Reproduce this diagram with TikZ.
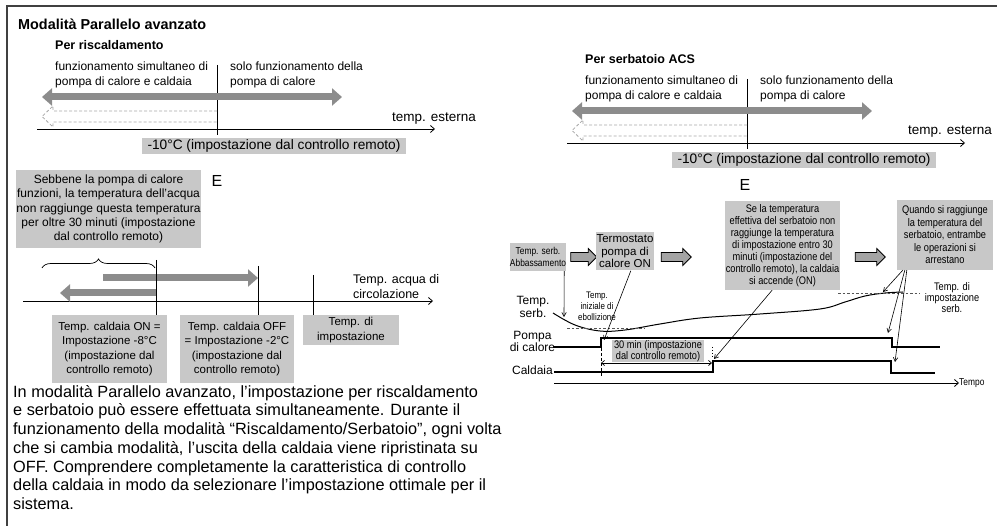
\documentclass[tikz,border=0pt]{standalone}
\usepackage{fontspec}
\setmainfont{Liberation Sans}
\newfontfamily\narrowf[FakeStretch=0.84]{Liberation Sans}
\usetikzlibrary{arrows.meta,shapes.arrows,decorations.pathreplacing,calc}
\definecolor{boxgrey}{HTML}{C8C8C8}
\definecolor{arrgrey}{HTML}{8C8C8C}
\definecolor{blockgrey}{HTML}{A4A4A4}
\definecolor{framegrey}{HTML}{404040}
\definecolor{dashgrey}{HTML}{A8A8A8}
\definecolor{dotdark}{HTML}{555555}
\begin{document}
\begin{tikzpicture}[x=1pt,y=-1pt,
  every node/.style={inner sep=0pt},
  fnt/.style 2 args={font=\fontsize{#1}{#2}\selectfont},
  bfnt/.style 2 args={font=\fontsize{#1}{#2}\selectfont\bfseries},
  nfnt/.style 2 args={font=\narrowf\fontsize{#1}{#2}\selectfont},
  gbox/.style={fill=boxgrey, align=center},
  thinline/.style={line width=0.7pt},
  axisline/.style={line width=0.8pt, -{Straight Barb[length=4pt,width=7pt]}},
  bigarrow/.style={draw=arrgrey, line width=7pt, -{Triangle[length=10pt,width=17pt]}},
  bigarrows/.style={draw=arrgrey, line width=7pt, {Triangle[length=10pt,width=17pt]}-{Triangle[length=10pt,width=17pt]}},
  ghost/.style={draw=dashgrey, line width=0.8pt, dash pattern=on 3pt off 2pt},
  blockarr/.style={single arrow, draw=black, fill=blockgrey, line width=0.8pt, minimum height=30pt, minimum width=17pt, single arrow head extend=4pt, inner sep=4pt},
  pointer/.style={line width=0.6pt, -{Straight Barb[length=4pt,width=4.5pt]}},
  signal/.style={line width=1.4pt},
  dotref/.style={draw=dotdark, line width=0.7pt, dash pattern=on 2.5pt off 2pt},
]
\useasboundingbox (0,0) rectangle (997,526);
% frame
\draw[framegrey, line width=2pt] (7,526) -- (7,6) -- (997,6);
\node[bfnt={14.4}{16}, anchor=base west] (title) at (18,30) {Modalità Parallelo avanzato};

% top panels
\foreach \dx/\dy/\sub/\nm in {0/0/Per riscaldamento/L, 530/14/Per serbatoio ACS/R}{
\begin{scope}[shift={(\dx,\dy)}]
  \node[bfnt={12.5}{15}, anchor=base west] (sub\nm) at (55,49.5) {\sub};
  \node[fnt={12}{15}, anchor=base west, align=left] (simul\nm) at (55,86) {funzionamento simultaneo di\\pompa di calore e caldaia};
  \node[fnt={12}{15}, anchor=base west, align=left] (solo\nm) at (230,86) {solo funzionamento della\\pompa di calore};
  \coordinate (vt\nm) at (217,65);
  \coordinate (vb\nm) at (217,135);
  \draw[thinline] (vt\nm) -- (vb\nm);
  \coordinate (ta\nm) at (42,97);
  \coordinate (tb\nm) at (342,97);
  \draw[bigarrows] (ta\nm) -- (tb\nm);
  \draw[ghost] (217,111) -- (53,111) -- (53,106) -- (42,116.5) -- (53,127) -- (53,122) -- (217,122);
  \coordinate (ax0\nm) at (37,129);
  \coordinate (ax1\nm) at (435,129);
  \draw[axisline] (ax0\nm) -- (ax1\nm);
  \node[gbox, fnt={13.7}{16}, minimum width=264, minimum height=16] (set\nm) at (274,146) {-10°C (impostazione dal controllo remoto)};
\end{scope}}
\node[fnt={13.5}{15}, anchor=base west] (estL) at (392,121.5) {temp. esterna};
\node[fnt={13.5}{15}, anchor=base west] (estR) at (908,135) {temp. esterna};

% lower left
\node[gbox, fnt={12}{14.2}, minimum width=185, minimum height=78] (sebb) at (108.5,209) {Sebbene la pompa di calore\\funzioni, la temperatura dell’acqua\\non raggiunge questa temperatura\\per oltre 30 minuti (impostazione\\dal controllo remoto)};
\node[fnt={16}{18}] (E1) at (217,181) {E};
\coordinate (brL) at (42,268);
\coordinate (brR) at (155,268);
\draw[thinline, decorate, decoration={brace, amplitude=9pt}] (brL) -- (brR);
\coordinate (cax0) at (23,301);
\coordinate (cax1) at (433,301);
\draw[axisline] (cax0) -- (cax1);
\coordinate (ra0) at (103,278);
\coordinate (ra1) at (258,278);
\draw[bigarrow] (ra0) -- (ra1);
\coordinate (la0) at (156,293);
\coordinate (la1) at (60,293);
\draw[bigarrow] (la0) -- (la1);
\node[fnt={12.5}{15}, anchor=base west, align=left] (acqua) at (353,298.5) {Temp. acqua di\\circolazione};
\node[gbox, fnt={11.5}{14.5}, minimum width=115, minimum height=68] (b1) at (109.5,349) {Temp. caldaia ON =\\Impostazione -8°C\\(impostazione dal\\controllo remoto)};
\node[gbox, fnt={11.5}{14.5}, minimum width=114, minimum height=68] (b2) at (237,349) {Temp. caldaia OFF\\= Impostazione -2°C\\(impostazione dal\\controllo remoto)};
\node[gbox, fnt={11.5}{14.5}, minimum width=96, minimum height=30] (b3) at (351,330) {Temp. di\\impostazione};
\coordinate (v1) at (156,260);
\coordinate (v2) at (258,266);
\coordinate (v3) at (313,275);
\draw[thinline] (v1) -- (v1 |- b1.north);
\draw[thinline] (v2) -- (v2 |- b2.north);
\draw[thinline] (v3) -- (v3 |- b3.north);

\node[fnt={16.3}{18.7}, anchor=base west, align=left] (para) at (13,509.5) {In modalità Parallelo avanzato, l’impostazione per riscaldamento\\e serbatoio può essere effettuata simultaneamente. Durante il\\funzionamento della modalità “Riscaldamento/Serbatoio”, ogni volta\\che si cambia modalità, l’uscita della caldaia viene ripristinata su\\OFF. Comprendere completamente la caratteristica di controllo\\della caldaia in modo da selezionare l’impostazione ottimale per il\\sistema.};

% lower right
\node[fnt={16}{18}] (E2) at (745,185) {E};
\node[gbox, nfnt={10}{12}, minimum width=56, minimum height=28] (A) at (538,257) {Temp. serb.\\Abbassamento};
\node[blockarr, minimum height=26pt] (ar1) at (581.5,257) {};
\node[gbox, fnt={11.5}{12.5}, minimum width=58, minimum height=38] (B) at (625,251.5) {Termostato\\pompa di\\calore ON};
\node[blockarr] (ar2) at (674,257) {};
\node[gbox, nfnt={11}{12}, minimum width=115, minimum height=89] (C) at (782.5,245.5) {Se la temperatura\\effettiva del serbatoio non\\raggiunge la temperatura\\di impostazione entro 30\\minuti (impostazione del\\controllo remoto), la caldaia\\si accende (ON)};
\node[blockarr] (ar3) at (868,257) {};
\node[gbox, nfnt={11}{12.5}, minimum width=96, minimum height=70] (D) at (945,235) {Quando si raggiunge\\la temperatura del\\serbatoio, entrambe\\le operazioni si\\arrestano};

\node[fnt={12}{13}, align=center] (tserb) at (533,307) {Temp.\\serb.};
\node[nfnt={9.5}{11}, align=center] (tini) at (597,306) {Temp.\\iniziale di\\ebollizione};
\node[fnt={12}{12}, align=center] (pompa) at (532.5,341) {Pompa\\di calore};
\node[fnt={12}{12}, anchor=east] (cald) at (553,370) {Caldaia};
\node[nfnt={10}{12}, anchor=west] (tempo) at (959,383) {Tempo};
\node[nfnt={11}{11}, align=center] (tset) at (952,298) {Temp. di\\impostazione\\serb.};
\node[gbox, nfnt={11}{11}, minimum width=92, minimum height=22] (thirty) at (658,351) {30 min (impostazione\\dal controllo remoto)};

\draw[line width=1pt] plot[smooth, tension=0.6] coordinates {(553,313) (575,325) (600,331) (625,330) (660,324) (700,318) (760,314) (820,309) (845,302) (865,296) (885,293) (903,292)};
\draw[dotref] (567,328) -- (645,328);
\draw[dotref] (838,293) -- (920,293);

\coordinate (p0) at (553,347);
\draw[signal] (p0) -- (601,347) -- (601,338) -- (892,338) -- (892,347) -- (940,347);
\coordinate (c0) at (554,372);
\draw[signal] (c0) -- (713,372) -- (713,361) -- (891,361) -- (891,373) -- (935,373);
\coordinate (t0) at (554,383);
\draw[axisline] (t0) -- (tempo.west);
\draw[thinline, dash pattern=on 3pt off 2pt] (601,338) -- (601,377);
\draw[thinline, dash pattern=on 1.5pt off 1.5pt] (712,347) -- (712,357);
\draw[thinline, {Straight Barb[length=3pt,width=5pt]}-{Straight Barb[length=3pt,width=5pt]}] (601,363) -- (712,363);

\draw[pointer] ($(A.south east)+(-2,0)$) -- (564,317);
\draw[pointer] ($(B.south west)!0.6!(B.south east)$) -- (604,340);
\draw[pointer] ($(C.south west)!0.41!(C.south east)$) -- (714,359);
\draw[pointer] ($(D.south west)+(6,0)$) -- (883,292);
\draw[pointer] ($(D.south west)+(8,0)$) -- (888,333);
\draw[pointer] ($(D.south west)+(10,0)$) -- (895,362);
\end{tikzpicture}
\end{document}
